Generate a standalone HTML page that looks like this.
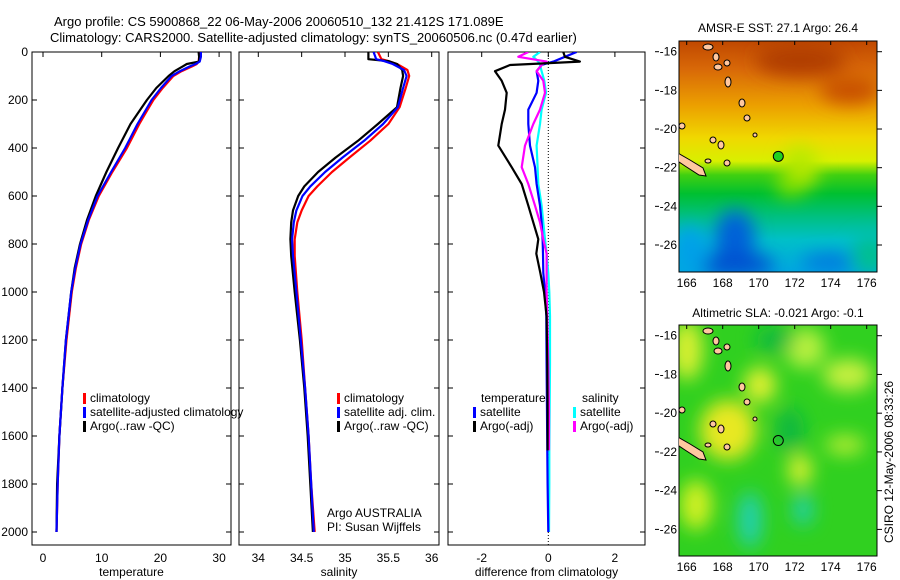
<!DOCTYPE html>
<html><head><meta charset="utf-8"><style>
html,body{margin:0;padding:0;background:#fff;}
svg{display:block;font-family:"Liberation Sans",sans-serif;}
text{font-size:12px;fill:#000;}
</style></head><body>
<svg id="fig" width="900" height="580" viewBox="0 0 900 580" xmlns="http://www.w3.org/2000/svg">
<defs>
<clipPath id="c1"><rect x="32" y="52" width="199" height="493"/></clipPath>
<clipPath id="c2"><rect x="239" y="52" width="200" height="493"/></clipPath>
<clipPath id="c3"><rect x="448" y="52" width="197" height="493"/></clipPath>
<clipPath id="cm1"><rect x="679" y="41" width="198" height="231"/></clipPath>
<clipPath id="cm2"><rect x="679" y="325" width="198" height="231"/></clipPath>
<filter id="bl" x="-50%" y="-50%" width="200%" height="200%"><feGaussianBlur stdDeviation="9"/></filter>
<linearGradient id="sstg" x1="0" y1="0" x2="0" y2="1">
<stop offset="0" stop-color="#c04800"/><stop offset="0.12" stop-color="#d86808"/>
<stop offset="0.28" stop-color="#eca000"/><stop offset="0.42" stop-color="#f0d800"/>
<stop offset="0.52" stop-color="#d8f000"/><stop offset="0.58" stop-color="#40d010"/>
<stop offset="0.66" stop-color="#00c030"/><stop offset="0.76" stop-color="#00c080"/>
<stop offset="0.86" stop-color="#00c0c8"/><stop offset="1" stop-color="#00a8e0"/>
</linearGradient>
</defs>

<text x="54" y="26" style="font-size:13px">Argo profile: CS 5900868_22 06-May-2006 20060510_132 21.412S 171.089E</text>
<text x="50" y="42" style="font-size:13px">Climatology: CARS2000. Satellite-adjusted climatology: synTS_20060506.nc (0.47d earlier)</text>

<g id="p1"></g>
<g id="p2"></g>
<g id="p3"></g>

<g>
<text x="778" y="32" text-anchor="middle">AMSR-E SST: 27.1 Argo: 26.4</text>
<g clip-path="url(#cm1)">
<rect x="679" y="41" width="198" height="231" fill="url(#sstg)"/>
<g filter="url(#bl)">
<ellipse cx="800" cy="168" rx="18" ry="22" fill="#b8e800"/>
<ellipse cx="790" cy="185" rx="14" ry="12" fill="#80e000"/>
<ellipse cx="735" cy="238" rx="20" ry="28" fill="#0060d8"/>
<ellipse cx="735" cy="265" rx="40" ry="12" fill="#0050d0"/>
<ellipse cx="830" cy="262" rx="30" ry="8" fill="#0070e0"/>
<ellipse cx="870" cy="255" rx="18" ry="20" fill="#00c090"/>
<ellipse cx="690" cy="250" rx="18" ry="25" fill="#00a0e8"/>
<ellipse cx="800" cy="60" rx="45" ry="16" fill="#b03c00"/>
<ellipse cx="850" cy="90" rx="30" ry="14" fill="#c85000"/>
</g>
</g>
<rect x="679" y="41" width="198" height="231" fill="none" stroke="#000"/>
</g>

<g>
<text x="778" y="317" text-anchor="middle">Altimetric SLA: -0.021 Argo: -0.1</text>
<g clip-path="url(#cm2)">
<rect x="679" y="325" width="198" height="231" fill="#30d020"/>
<g filter="url(#bl)">
<ellipse cx="687" cy="350" rx="16" ry="30" fill="#d8f030"/>
<ellipse cx="728" cy="430" rx="28" ry="30" fill="#e8e820"/>
<ellipse cx="760" cy="385" rx="16" ry="18" fill="#e0f030"/>
<ellipse cx="696" cy="505" rx="16" ry="25" fill="#d0f020"/>
<ellipse cx="800" cy="470" rx="12" ry="16" fill="#d8f030"/>
<ellipse cx="848" cy="375" rx="25" ry="16" fill="#c8f040"/>
<ellipse cx="805" cy="348" rx="20" ry="20" fill="#b8f040"/>
<ellipse cx="845" cy="445" rx="20" ry="10" fill="#b0ec30"/>
<ellipse cx="750" cy="520" rx="12" ry="28" fill="#20d0b0"/>
<ellipse cx="803" cy="510" rx="10" ry="16" fill="#20d0a8"/>
<ellipse cx="775" cy="340" rx="20" ry="12" fill="#10b840"/>
<ellipse cx="790" cy="430" rx="14" ry="22" fill="#10b840"/>
</g>
</g>
<rect x="679" y="325" width="198" height="231" fill="none" stroke="#000"/>
</g>

<g id="maps-overlay"></g>

<text transform="translate(893,462) rotate(-90)" text-anchor="middle">CSIRO 12-May-2006 08:33:26</text>
</svg>
<script>
// ---------- data ----------
var depthTicks = [0,200,400,600,800,1000,1200,1400,1600,1800,2000];
var tempTicks = [0,10,20,30];
var salTicks = ["34","34.5","35","35.5","36"];
var diffTicks = [-2,0,2];
var lonTicks = [166,168,170,172,174,176];
var latTicks = [16,18,20,22,24,26];

var depthsT = [0,20,40,50,60,80,100,150,200,250,300,400,500,600,700,800,900,1000,1200,1400,1600,1800,2000];
var tempClim = [26.6,26.6,26.5,26.2,25.4,23.6,22.2,20.4,18.8,17.6,16.4,14.3,11.8,9.5,7.8,6.5,5.6,4.9,4.0,3.3,2.8,2.5,2.3];
var tempSat  = [26.9,26.9,26.7,26.0,25.0,23.3,21.9,20.1,18.5,17.3,16.1,14.0,11.6,9.3,7.7,6.4,5.5,4.8,3.9,3.3,2.8,2.5,2.3];
var tempArgo = [26.5,26.6,26.6,24.5,23.8,22.4,21.4,19.3,17.7,16.3,14.9,12.8,10.8,9.0,7.5,6.3,5.4,4.8,3.9,3.3,2.8,2.4,2.3];

var depthsS = [0,30,38,50,75,100,150,230,300,370,440,500,560,600,660,710,780,850,1000,1200,1400,1600,1800,2000];
var salClim = [35.38,35.42,35.5,35.6,35.72,35.74,35.7,35.63,35.5,35.29,35.05,34.85,34.68,34.58,34.5,34.45,34.42,34.42,34.45,34.5,34.54,34.58,34.61,34.65];
var salSat  = [35.33,35.36,35.45,35.55,35.68,35.71,35.67,35.61,35.44,35.22,34.97,34.77,34.6,34.51,34.44,34.41,34.39,34.4,34.44,34.49,34.54,34.58,34.61,34.64];
var salArgo = [35.27,35.27,35.5,35.6,35.66,35.67,35.64,35.6,35.38,35.15,34.89,34.69,34.53,34.46,34.4,34.38,34.37,34.38,34.42,34.48,34.53,34.57,34.6,34.63];

var depthsD = [0,20,40,54,80,120,170,240,300,390,480,550,640,710,780,840,920,1000,1100,1300,1500,1660,1800,2000];
var diffTempArgo = [0.45,0.5,0.95,-1.15,-1.6,-1.4,-1.25,-1.3,-1.4,-1.5,-1.1,-0.8,-0.6,-0.45,-0.3,-0.36,-0.24,-0.13,-0.05,-0.03,-0.02,-0.02,null,null];
var diffTempSat  = [0.85,0.5,0.15,-0.2,-0.35,-0.3,-0.35,-0.6,-0.6,-0.55,-0.4,-0.35,-0.25,-0.2,-0.17,-0.16,-0.15,-0.1,-0.06,-0.05,-0.04,-0.03,-0.02,0];
var diffSalArgo  = [-0.6,-0.9,-0.05,-0.2,-0.35,-0.15,-0.1,-0.25,-0.45,-0.7,-0.8,-0.6,-0.4,-0.25,-0.15,-0.05,-0.05,-0.05,-0.03,0,0.02,0.02,null,null];
var diffSalSat   = [-0.25,-0.45,-0.3,-0.25,-0.2,-0.12,-0.07,-0.2,-0.25,-0.35,-0.32,-0.3,-0.2,-0.15,-0.1,-0.05,0,0.03,0.05,0.05,0.04,0.03,0.03,0.02];

var argoLon = 171.089, argoLat = 21.412;

// ---------- helpers ----------
var NS = "http://www.w3.org/2000/svg";
function mk(tag, attrs, parent){ var e=document.createElementNS(NS,tag); for(var k in attrs) e.setAttribute(k,attrs[k]); parent.appendChild(e); return e; }
function yD(d){ return 52 + d*0.24; }
function xT(t){ return 43 + t*5.87; }
function xS(s){ return 258.3 + (s-34)*86.7; }
function xDf(v){ return 548.3 + v*33.3; }
function lonX(l){ return 686.7 + (l-166)*18; }
function latY1(l){ return 51.7 + (l-16)*19.33; }
function latY2(l){ return 335.7 + (l-16)*19.37; }

function frame(g, x0, x1, xticks, xfun, xlabel, yLabels){
  var r = mk('rect',{x:x0,y:52,width:x1-x0,height:493,fill:'none',stroke:'#000'},g);
  
  
  depthTicks.forEach(function(d){
    var y=yD(d);
    mk('line',{x1:x0,x2:x0+5,y1:y,y2:y,stroke:'#000'},g);
    mk('line',{x1:x1-5,x2:x1,y1:y,y2:y,stroke:'#000'},g);
    if(yLabels){
      var t=mk('text',{x:x0-4,y:y+4,'text-anchor':'end'},g); t.textContent=d;
      
      
    }
  });
  xticks.forEach(function(v){
    var x=xfun(parseFloat(v));
    mk('line',{x1:x,x2:x,y1:52,y2:57,stroke:'#000'},g);
    var t=mk('text',{x:x,y:562,'text-anchor':'middle'},g); t.textContent=v;
    
    
  });
  var lab=mk('text',{x:(x0+x1)/2,y:576,'text-anchor':'middle'},g); lab.textContent=xlabel;
  
  
}
function series(g, clip, depths, vals, xf, color, name, w){
  var pts=[];
  for(var i=0;i<depths.length;i++){ if(vals[i]===null) continue; pts.push(xf(vals[i]).toFixed(1)+','+yD(depths[i]).toFixed(1)); }
  var p=mk('polyline',{points:pts.join(' '),fill:'none',stroke:color,'stroke-width':w||2.2,'clip-path':'url(#'+clip+')','stroke-linejoin':'round'},g);
  
  
}
function legend(g, x, y, color, label, name){
  mk('rect',{x:x,y:y-9,width:3,height:11,fill:color},g);
  var t=mk('text',{x:x+7,y:y},g); t.textContent=label;
  
  
}

// ---------- panel 1 ----------
var g1=document.getElementById('p1');
frame(g1,32,231,tempTicks,xT,'temperature',true);
series(g1,'c1',depthsT,tempClim,xT,'#ff0000','temp-climatology-line');
series(g1,'c1',depthsT,tempArgo,xT,'#000000','temp-argo-line');
series(g1,'c1',depthsT,tempSat,xT,'#0000ff','temp-satellite-line');
legend(g1,83,402,'#ff0000','climatology','legend-climatology');
legend(g1,83,416,'#0000ff','satellite-adjusted climatology','legend-satellite-adjusted');
legend(g1,83,430,'#000000','Argo(..raw -QC)','legend-argo');

// ---------- panel 2 ----------
var g2=document.getElementById('p2');
frame(g2,239,439,salTicks,xS,'salinity',false);
series(g2,'c2',depthsS,salClim,xS,'#ff0000','sal-climatology-line');
series(g2,'c2',depthsS,salArgo,xS,'#000000','sal-argo-line');
series(g2,'c2',depthsS,salSat,xS,'#0000ff','sal-satellite-line');
legend(g2,337,402,'#ff0000','climatology','legend-sal-climatology');
legend(g2,337,416,'#0000ff','satellite adj. clim.','legend-sal-satellite');
legend(g2,337,430,'#000000','Argo(..raw -QC)','legend-sal-argo');
var a1=mk('text',{x:327,y:517},g2); a1.textContent='Argo AUSTRALIA';


var a2=mk('text',{x:327,y:531},g2); a2.textContent='PI: Susan Wijffels';



// ---------- panel 3 ----------
var g3=document.getElementById('p3');
frame(g3,448,645,diffTicks,xDf,'difference from climatology',false);
mk('line',{x1:xDf(0),x2:xDf(0),y1:52,y2:545,stroke:'#000','stroke-dasharray':'1,2'},g3);
series(g3,'c3',depthsD,diffSalSat,xDf,'#00ffff','diff-sal-satellite-line');
series(g3,'c3',depthsD,diffTempSat,xDf,'#0000ff','diff-temp-satellite-line');
series(g3,'c3',depthsD,diffSalArgo,xDf,'#ff00ff','diff-sal-argo-line');
series(g3,'c3',depthsD,diffTempArgo,xDf,'#000000','diff-temp-argo-line');
var lt=mk('text',{x:481,y:402},g3); lt.textContent='temperature';


var ls=mk('text',{x:582,y:402},g3); ls.textContent='salinity';


legend(g3,473,416,'#0000ff','satellite','legend-temp-satellite');
legend(g3,473,430,'#000000','Argo(-adj)','legend-temp-argo');
legend(g3,573,416,'#00ffff','satellite','legend-sal-satellite-diff');
legend(g3,573,430,'#ff00ff','Argo(-adj)','legend-sal-argo-diff');

// ---------- maps overlay ----------
var go=document.getElementById('maps-overlay');
[[latY1,41,272,'cm1','#20d020'],[latY2,325,556,'cm2','none']].forEach(function(m){
  var ly=m[0], top=m[1], bot=m[2];
  var isl=mk('g',{'clip-path':'url(#'+m[3]+')',fill:'#ffc8a0',stroke:'#000','stroke-width':1},go);
  
  
  var off = top-41;
  mk('path',{d:'M676 '+(152+off)+' L690 '+(160+off)+' L703 '+(168+off)+' L706 '+(176+off)+' L699 '+(175+off)+' L685 '+(166+off)+' L676 '+(160+off)+' Z'},isl);
  [[708,47,5,3],[716,57,3,4],[718,67,4,3],[727,63,3,3],[728,82,3,5],[742,103,3,4],[747,118,3,3],[708,161,3,2],[713,140,3,3],[721,145,3,4],[727,163,3,3],[755,135,2,2],[682,126,3,3]].forEach(function(e){
    mk('ellipse',{cx:e[0],cy:e[1]+off,rx:e[2],ry:e[3]},isl);
  });
  latTicks.forEach(function(l){
    var y=ly(l);
    mk('line',{x1:655,x2:659,y1:y,y2:y,stroke:'#000'},go);
    mk('line',{x1:877,x2:882,y1:y,y2:y,stroke:'#000'},go);
    var t=mk('text',{x:677,y:y+4,'text-anchor':'end'},go); t.textContent='-'+l;
    
    
  });
  lonTicks.forEach(function(l){
    var x=lonX(l);
    mk('line',{x1:x,x2:x,y1:top,y2:top+4,stroke:'#000'},go);
    var t=mk('text',{x:x,y:bot+15,'text-anchor':'middle'},go); t.textContent=l;
    
    
  });
  var c=mk('circle',{cx:lonX(argoLon),cy:ly(argoLat),r:5,fill:m[4],stroke:'#000','stroke-width':1},go);
  
  
});
</script>
</body></html>
